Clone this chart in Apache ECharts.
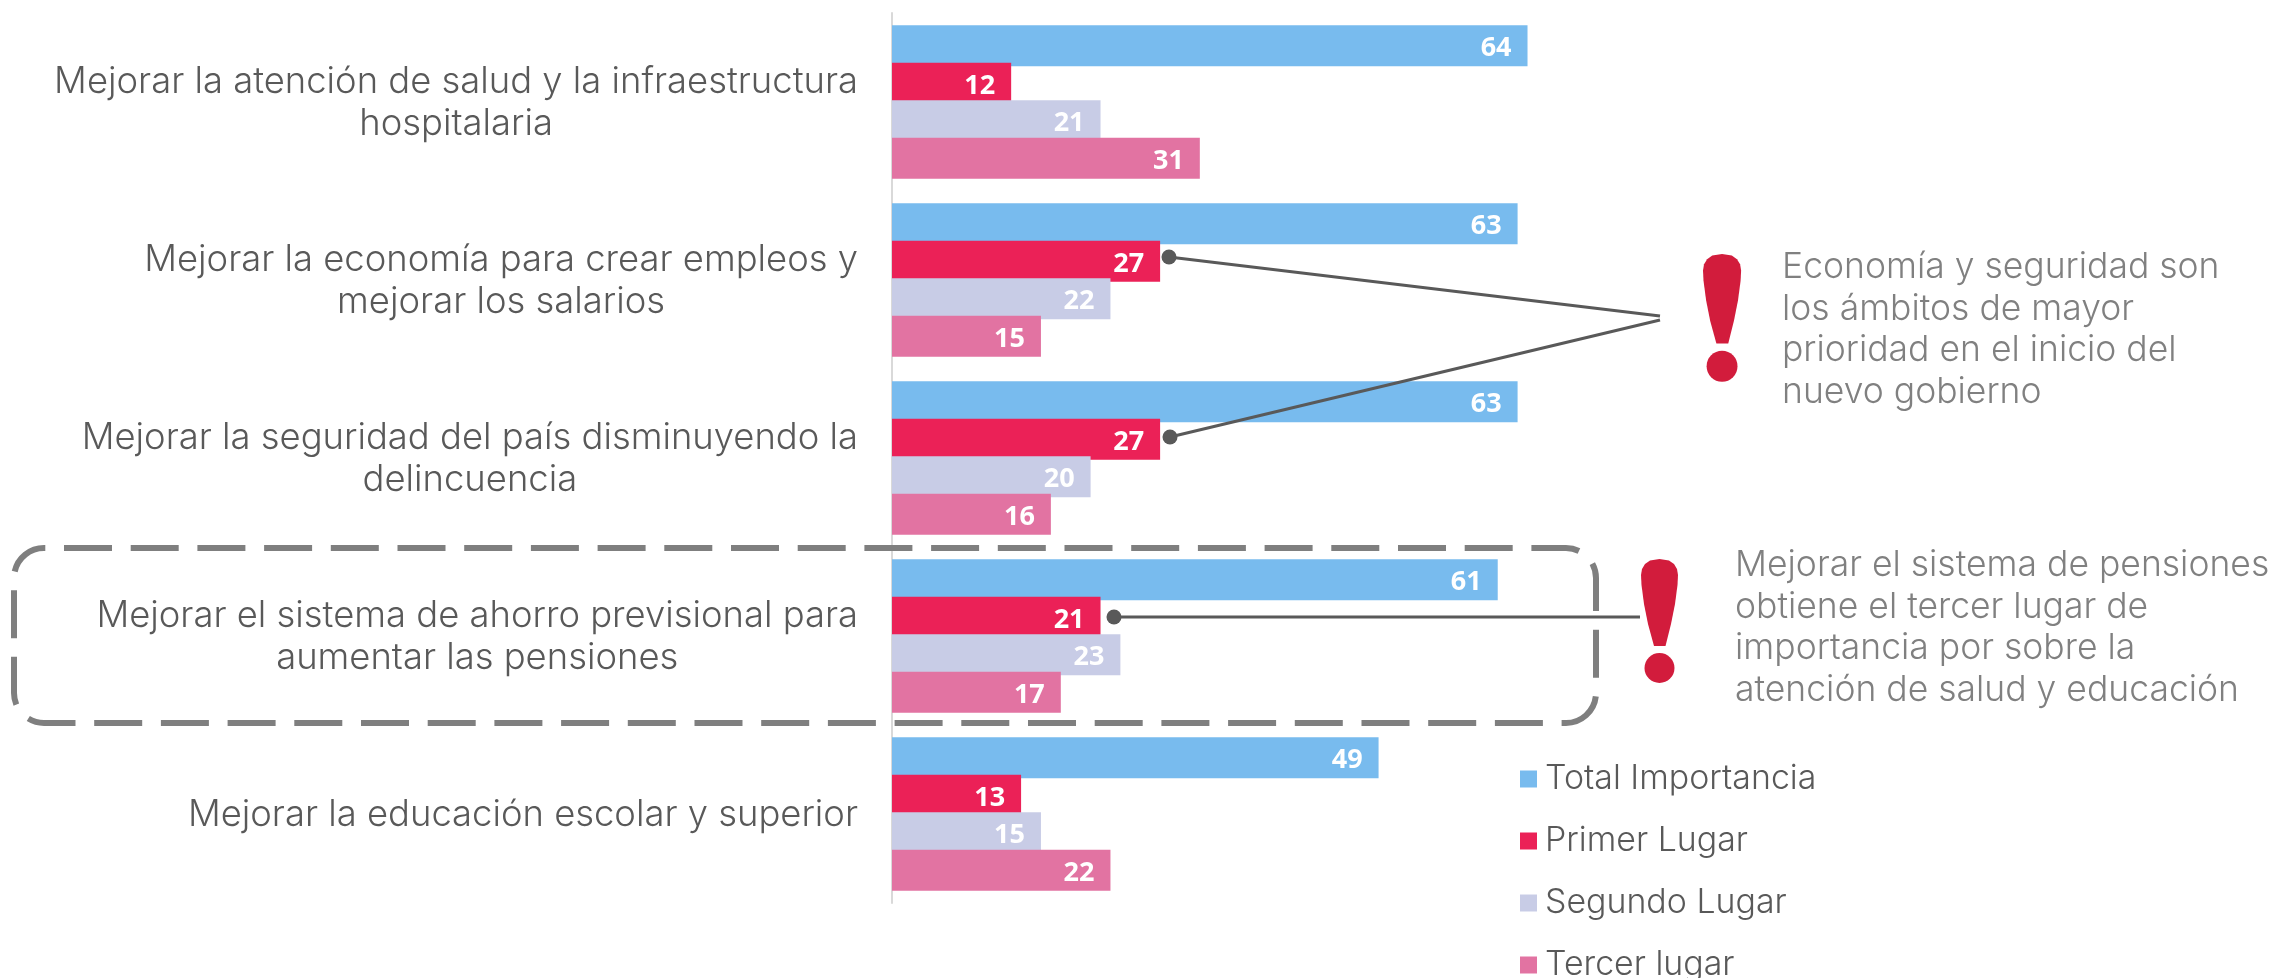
<!DOCTYPE html>
<html><head><meta charset="utf-8">
<style>html,body{margin:0;padding:0;background:#fff}#c{width:2277px;height:978px}</style>
<script src="https://cdn.jsdelivr.net/npm/echarts@6/dist/echarts.min.js"></script>
</head><body><div id="c"></div>
<script>
const categories = [
  "Mejorar la atención de salud y la infraestructura\nhospitalaria",
  "Mejorar la economía para crear empleos y\nmejorar los salarios",
  "Mejorar la seguridad del país disminuyendo la\ndelincuencia",
  "Mejorar el sistema de ahorro previsional para\naumentar las pensiones",
  "Mejorar la educación escolar y superior"
];
const totalImportancia = [64, 63, 63, 61, 49];
const primerLugar = [12, 27, 27, 21, 13];
const segundoLugar = [21, 22, 20, 23, 15];
const tercerLugar = [31, 15, 16, 17, 22];
const note1 = "Economía y seguridad son\nlos ámbitos de mayor\nprioridad en el inicio del\nnuevo gobierno";
const note2 = "Mejorar el sistema de pensiones\nobtiene el tercer lugar de\nimportancia por sobre la\natención de salud y educación";

const FONT = "Inter";
const chart = echarts.init(document.getElementById('c'), null, {renderer:'canvas'});
const mk = (name, data, color) => ({
  name, type:'bar', data, barWidth:41, barGap:'-8.5%',
  itemStyle:{color},
  label:{show:true, position:'insideRight', distance:16, offset:[0,3], color:'#fff',
         fontFamily:'Open Sans', fontWeight:'bold', fontSize:27}
});
const bangOutline = [[0,16],[1,10],[4,5],[9,1.5],[18.5,0],[28,1.5],[33,5],[36,10],[37,16],[36.5,26],[34,45],[30,65],[24.5,87],[13,87],[7,65],[3,45],[0.5,26]];
const bang = (x,y,s) => ({
  type:'group', x, y, scaleX:s, scaleY:s, z:20,
  children:[
    {type:'polygon', z:20, shape:{points:bangOutline}, style:{fill:'#d21c3c'}},
    {type:'circle', z:20, shape:{cx:18.5,cy:109,r:15}, style:{fill:'#d21c3c'}}
  ]
});
const seg = (x1,y1,x2,y2) => ({type:'line', z:20, shape:{x1,y1,x2,y2}, style:{stroke:'#595959', lineWidth:3}});
const dot = (cx,cy) => ({type:'circle', z:20, shape:{cx,cy,r:7.5}, style:{fill:'#595959'}});
const note = (x,y,text) => ({type:'text', z:20, x, y, style:{text, fill:'#808080', font:'300 35.5px '+FONT, lineHeight:41.5}});

chart.setOption({
  animation:false,
  backgroundColor:'#fff',
  grid:{left:892, top:13, width:993, height:890},
  xAxis:{type:'value', min:0, max:100, show:false},
  yAxis:{type:'category', inverse:true, data:categories,
    axisLine:{lineStyle:{color:'#d9d9d9', width:2}}, axisTick:{show:false},
    axisLabel:{interval:0, margin:34, color:'#595959', align:'right', padding:[3,0,0,0],
      formatter:v=>v.split('\n').map(s=>'{c|'+s+'}').join('\n'),
      rich:{c:{align:'center', fontFamily:FONT, fontWeight:300, fontSize:36.4, lineHeight:42, color:'#595959'}}}},
  legend:{orient:'vertical', left:1515, top:757, height:320, itemWidth:17, itemHeight:17, itemGap:28,
    icon:'rect', textStyle:{fontFamily:FONT, fontWeight:300, fontSize:33.9, color:'#595959', padding:[0,0,0,3]},
    data:['Total Importancia','Primer Lugar','Segundo Lugar','Tercer lugar']},
  series:[
    mk('Total Importancia', totalImportancia, '#78BBEE'),
    mk('Primer Lugar', primerLugar, '#EB2157'),
    mk('Segundo Lugar', segundoLugar, '#C8CCE6'),
    mk('Tercer lugar', tercerLugar, '#E273A2')
  ],
  graphic:{elements:[
    {type:'rect', z:15, shape:{x:14,y:548,width:1582,height:175,r:30},
      style:{fill:'none', stroke:'#7f7f7f', lineWidth:6, lineDash:[48,18.7], lineDashOffset:46.7}},
    seg(1169,257,1660,316), seg(1170,437,1660,320), seg(1114,617,1640,617),
    dot(1169,257), dot(1170,437), dot(1114,617),
    bang(1703,254,1.03), bang(1641,559,1),
    note(1782,247,note1), note(1735,545,note2)
  ]}
});
</script></body></html>
